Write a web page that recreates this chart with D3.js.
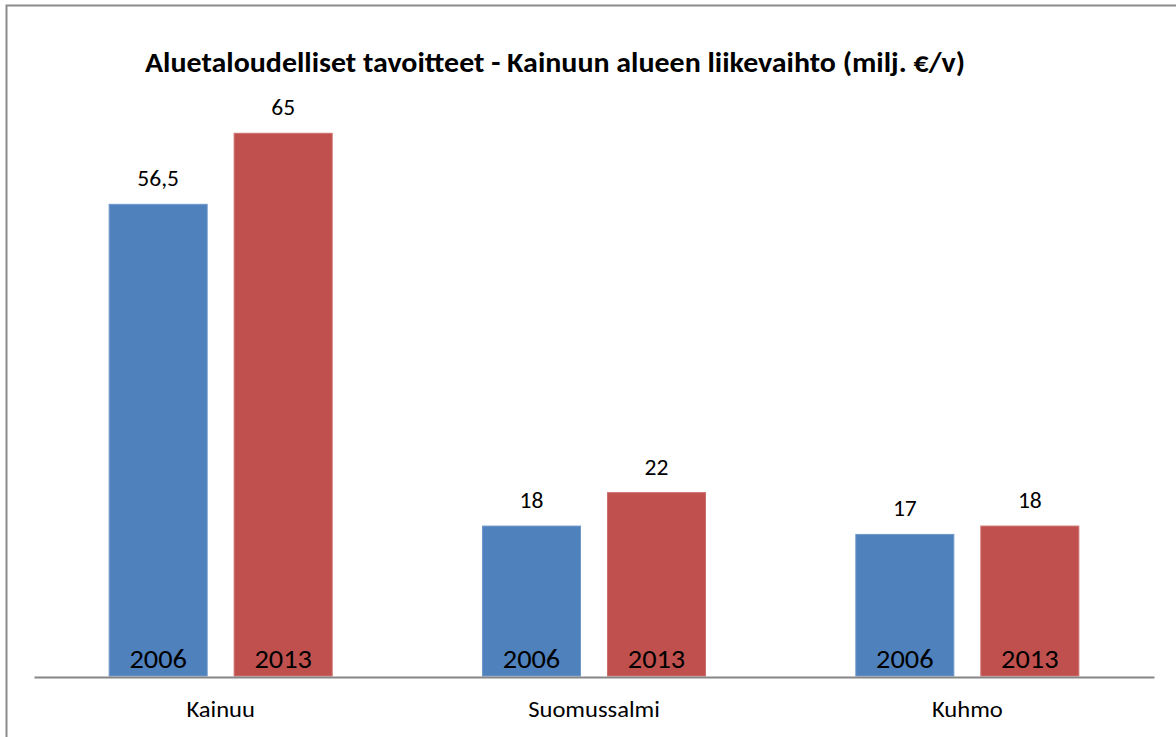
<!DOCTYPE html>
<html>
<head>
<meta charset="utf-8">
<script src="https://cdn.jsdelivr.net/npm/d3@7"></script>
<style>
  html, body { margin: 0; padding: 0; background: #fff; }
  svg { display: block; }
  text { font-family: Carlito, Lato, "Open Sans", sans-serif; fill: #000; }
</style>
</head>
<body>
<svg id="chart" width="1176" height="737"></svg>
<script>
// Regions and the two target years
const categories = ["Kainuu", "Suomussalmi", "Kuhmo"];
const seriesNames = ["2006", "2013"];
const values2006 = [56.5, 18, 17];
const values2013 = [65, 22, 18];
const valueLabels2006 = ["56,5", "18", "17"];
const valueLabels2013 = ["65", "22", "18"];
const titleText = "Aluetaloudelliset tavoitteet - Kainuun alueen liikevaihto (milj. €/v)";

const colors = { "2006": "#4F81BD", "2013": "#C0504D" };
const strokes = { "2006": "#6F97C9", "2013": "#CC706D" };

const W = 1176, H = 737;
const plot = { left: 34, right: 1154, top: 91, bottom: 676 };
const textStretch = 1.07; // slightly wide lettering

const svg = d3.select("#chart");

// Chart frame
svg.append("rect")
  .attr("x", 6.5).attr("y", 5.5)
  .attr("width", W + 20).attr("height", H + 20)
  .attr("fill", "#fff")
  .attr("stroke", "#8C8C8C").attr("stroke-width", 2);

// Helper: centred, slightly widened text
function label(parent, x, y, size, txt, bold) {
  const t = parent.append("text")
    .attr("transform", `translate(${x},${y}) scale(${textStretch},1)`)
    .attr("text-anchor", "middle")
    .attr("font-size", size)
    .text(txt);
  if (bold) t.attr("font-weight", "bold");
  return t;
}

// Title
label(svg, 555, 72, 28, titleText, true);

const x0 = d3.scaleBand()
  .domain(categories)
  .range([plot.left, plot.right])
  .paddingInner(0).paddingOuter(0);

const groupInner = 224;
const x1 = d3.scaleBand()
  .domain(seriesNames)
  .range([0, groupInner])
  .paddingInner(0.208).paddingOuter(0);

const y = d3.scaleLinear().domain([0, 70]).range([plot.bottom, plot.top]);

const rows = categories.map((c, i) => ({
  category: c,
  bars: [
    { series: "2006", value: values2006[i], label: valueLabels2006[i] },
    { series: "2013", value: values2013[i], label: valueLabels2013[i] }
  ]
}));

const groups = svg.append("g").selectAll("g.group")
  .data(rows)
  .join("g")
  .attr("class", "group")
  .attr("transform", d => `translate(${x0(d.category) + (x0.bandwidth() - groupInner) / 2},0)`);

const bar = groups.selectAll("g.bar")
  .data(d => d.bars)
  .join("g")
  .attr("class", "bar");

bar.append("rect")
  .attr("x", d => x1(d.series) + 0.5)
  .attr("y", d => y(d.value) + 0.5)
  .attr("width", x1.bandwidth() - 1)
  .attr("height", d => y(0) - y(d.value) - 0.5)
  .attr("fill", d => colors[d.series])
  .attr("stroke", d => strokes[d.series])
  .attr("stroke-width", 1);

// Value labels above bars, year labels inside the bars
bar.each(function (d) {
  const g = d3.select(this);
  const cx = x1(d.series) + x1.bandwidth() / 2;
  label(g, cx, y(d.value) - 17.5, 22, d.label, false);
  label(g, cx, plot.bottom - 8, 26.5, d.series, false);
});

// Category axis
const xAxis = svg.append("g")
  .attr("transform", `translate(0,${plot.bottom + 1})`)
  .call(d3.axisBottom(x0).tickSize(0).tickPadding(0));
xAxis.select(".domain").attr("stroke", "#868686").attr("stroke-width", 2);
xAxis.selectAll(".tick text")
  .attr("dy", 0)
  .attr("y", 0)
  .attr("transform", `translate(0,40) scale(${textStretch},1)`)
  .attr("font-size", 23)
  .attr("font-family", "Carlito, Lato, 'Open Sans', sans-serif")
  .attr("fill", "#000");
</script>
</body>
</html>
